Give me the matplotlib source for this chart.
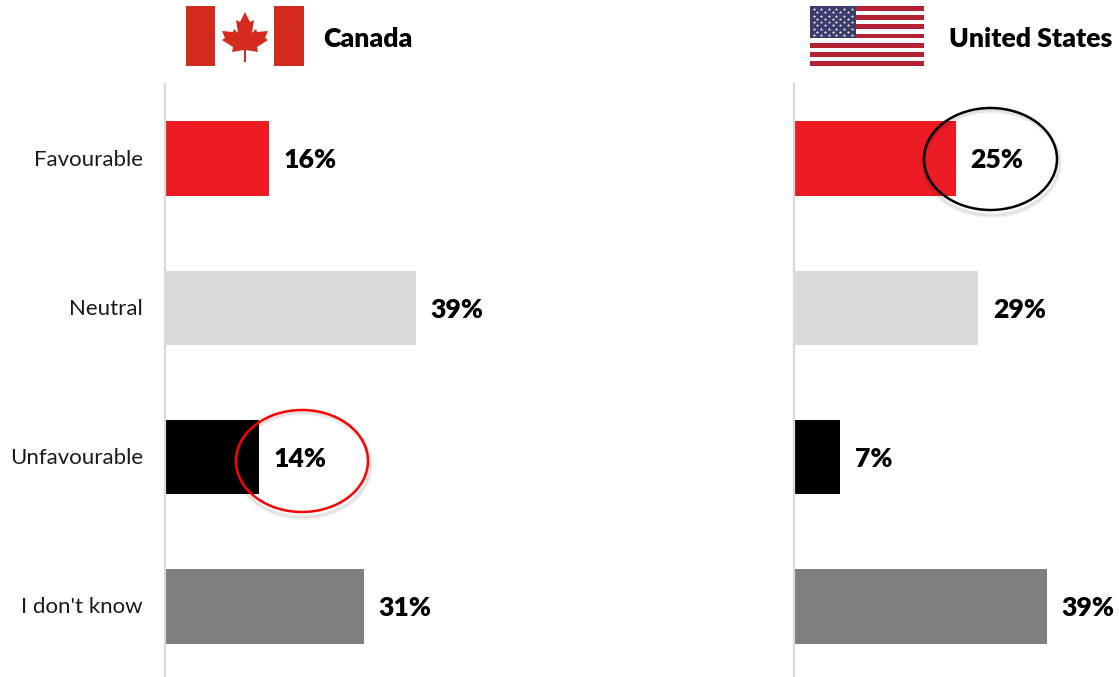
import matplotlib
matplotlib.use("Agg")
import matplotlib.pyplot as plt
from matplotlib.patches import Ellipse, Rectangle, Polygon
from matplotlib.transforms import ScaledTranslation

plt.rcParams["font.family"] = ["Lato", "DejaVu Sans"]

# data
categories = ["Favourable", "Neutral", "Unfavourable", "I don't know"]
canada = [16.2, 39.1, 14.6, 31]
canada_labels = ["16%", "39%", "14%", "31%"]
usa = [25.2, 28.7, 7.1, 39.4]
usa_labels = ["25%", "29%", "7%", "39%"]
colors = ["#ED1C24", "#D9D9D9", "#000000", "#7F7F7F"]

W, H = 1119, 677
fig = plt.figure(figsize=(W / 100, H / 100), dpi=100)


def make_axes(left, show_names):
    # pixel box -> figure fraction, x scale is 6.41 px per percent
    ax = fig.add_axes([left / W, 1 - 681 / H, 321 / W, 597 / H])
    ax.set_xlim(0, 321 / 6.41)
    ax.set_ylim(3.5, -0.5)
    ax.patch.set_visible(False)
    for s in ["top", "right", "bottom"]:
        ax.spines[s].set_visible(False)
    ax.spines["left"].set_color("#D9D9D9")
    ax.spines["left"].set_linewidth(1.6)
    ax.set_xticks([])
    ax.set_yticks(range(4))
    ax.tick_params(axis="y", length=0, pad=16)
    if show_names:
        ax.set_yticklabels(categories, fontsize=16, color="#1a1a1a")
        up = ScaledTranslation(0, 0.8 / 72, fig.dpi_scale_trans)
        for t in ax.get_yticklabels():
            t.set_transform(t.get_transform() + up)
    else:
        ax.set_yticklabels([])
    return ax


for left, vals, labels, names in [(165, canada, canada_labels, True),
                                  (794, usa, usa_labels, False)]:
    ax = make_axes(left, names)
    ax.barh(range(4), vals, height=0.5, color=colors)
    for i, v in enumerate(vals):
        ax.text(v + 2.35, i + 0.012, labels[i], va="center", ha="left",
                fontsize=19.2, fontweight="heavy", color="black", clip_on=False)

# overlay in pixel coordinates: flags, headers, circles
ov = fig.add_axes([0, 0, 1, 1])
ov.set_xlim(0, W)
ov.set_ylim(H, 0)
ov.axis("off")
ov.patch.set_visible(False)

# canadian flag
flag_red = "#D52B1E"
ov.add_patch(Rectangle((186, 6), 29, 60, color=flag_red, lw=0))
ov.add_patch(Rectangle((274, 6), 30, 60, color=flag_red, lw=0))
leaf = [(0, -21), (-5, -11), (-9, -13), (-7, 0), (-11, -4), (-12, -1), (-23, -2),
        (-20, 5), (-23, 7), (-12, 14), (-13, 19), (-1, 17), (-1, 29), (1, 29),
        (1, 17), (13, 19), (12, 14), (23, 7), (20, 5), (23, -2), (12, -1),
        (11, -4), (7, 0), (9, -13), (5, -11)]
ov.add_patch(Polygon([(245 + x, 33 + y) for x, y in leaf], color=flag_red, lw=0))
ov.text(323, 39, "Canada", fontsize=19.2, fontweight="heavy", va="center", ha="left")

# us flag
stripe_h = 60 / 13
ov.add_patch(Rectangle((810, 6), 114, 60, color="white", lw=0))
for i in range(0, 13, 2):
    ov.add_patch(Rectangle((810, 6 + i * stripe_h), 114, stripe_h,
                           color="#B22234", lw=0))
ov.add_patch(Rectangle((810, 6), 46, 32, color="#3C3B6E", lw=0))
star_x, star_y = [], []
for r in range(9):
    n = 6 if r % 2 == 0 else 5
    for c in range(n):
        star_x.append(813.5 + c * 7.6 + (0 if r % 2 == 0 else 3.8))
        star_y.append(9 + r * 3.25)
ov.scatter(star_x, star_y, s=6, c="white", marker="*", linewidths=0)
ov.text(949, 39, "United States", fontsize=19.2, fontweight="heavy", va="center", ha="left")

# circles with a soft shadow
for cx, cy, w, h, col in [(990.5, 159, 133, 102, "black"), (302, 461, 132, 102, "#FF0000")]:
    for grow, a in [(5, 0.03), (3, 0.04), (1, 0.05)]:
        ov.add_patch(Ellipse((cx + 1, cy + 4), w + grow, h + grow, fill=False,
                             ec="black", alpha=a, lw=2.5))
    ov.add_patch(Ellipse((cx, cy), w, h, fill=False, ec=col, lw=1.8))

fig.savefig("out.png", dpi=100, facecolor="white")
